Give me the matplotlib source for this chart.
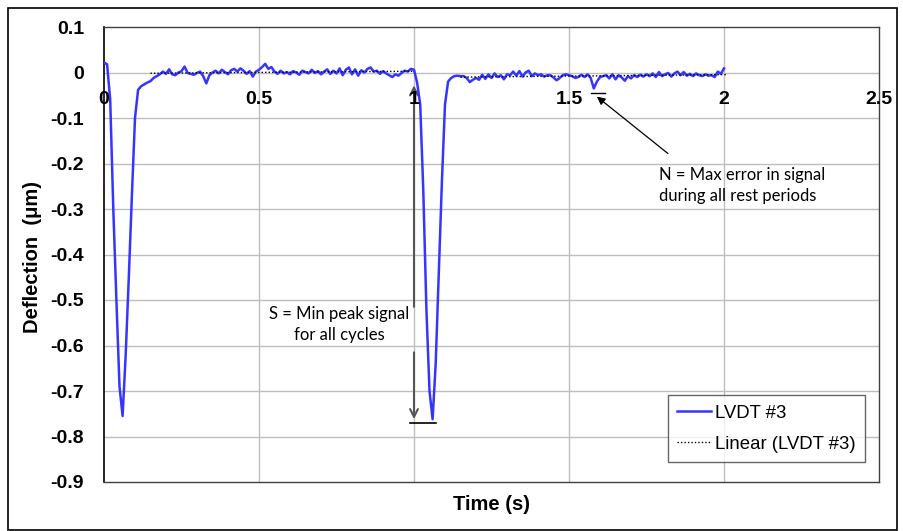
import numpy as np
import matplotlib
matplotlib.use("Agg")
import matplotlib.pyplot as plt
from matplotlib.patches import Rectangle
from matplotlib.lines import Line2D

# ---------------- data ----------------
dt = 0.01
cycle1 = [0.022, 0.018, -0.06, -0.30, -0.50, -0.69, -0.755, -0.62, -0.45, -0.27,
          -0.10, -0.038, -0.030, -0.026, -0.022, -0.019, -0.012, -0.008, -0.004, 0.002,
          -0.003, 0.007, -0.004, -0.006, 0.000, 0.003, 0.013, -0.001, -0.003, -0.005,
          -0.001, 0.002, -0.008, -0.024, -0.006, 0.000, 0.004, -0.002, 0.006, 0.001,
          -0.004, 0.005, 0.008, 0.002, 0.009, 0.004, -0.003, 0.003, -0.009, 0.002,
          0.006, 0.012, 0.019, 0.008, 0.012, 0.002, -0.003, 0.004, -0.002, 0.001,
          -0.004, 0.003, 0.000, -0.005, 0.004, 0.001, -0.002, 0.006, -0.001, 0.003,
          -0.004, 0.002, 0.007, -0.003, 0.004, -0.002, 0.009, -0.006, 0.006, 0.011,
          -0.004, 0.007, -0.007, 0.005, 0.000, 0.008, 0.011, 0.002, 0.004, -0.003,
          0.003, -0.002, -0.006, -0.010, -0.004, -0.007, -0.001, 0.004, 0.002, 0.008]
cycle2 = [0.006, -0.022, -0.07, -0.26, -0.52, -0.70, -0.762, -0.64, -0.44, -0.24,
          -0.07, -0.020, -0.012, -0.008, -0.007, -0.008, -0.008, -0.012, -0.021, -0.016,
          -0.012, -0.016, -0.005, -0.014, -0.004, -0.012, -0.002, -0.010, -0.006, -0.015,
          -0.004, -0.006, 0.002, -0.007, 0.003, -0.009, 0.000, 0.004, -0.008, -0.002,
          -0.006, -0.004, -0.009, -0.006, -0.006, -0.011, -0.017, -0.012, -0.006, -0.004,
          -0.006, -0.008, -0.012, -0.010, -0.005, -0.010, -0.004, -0.012, -0.035, -0.020,
          -0.010, -0.008, -0.006, -0.013, -0.004, -0.015, -0.006, -0.011, -0.018, -0.008,
          -0.013, -0.006, -0.010, -0.005, -0.009, -0.004, -0.008, -0.002, -0.010, 0.001,
          -0.008, -0.004, -0.001, -0.009, -0.002, 0.002, -0.006, 0.001, -0.007, -0.003,
          -0.008, -0.002, -0.006, -0.008, -0.004, -0.007, -0.006, -0.010, 0.002, -0.003,
          0.009]
deflection = np.array(cycle1 + cycle2)
time = np.round(np.arange(len(deflection)) * dt, 2)

rest_windows = [(0.15, 0.99), (1.15, 2.00)]

xticks = [0, 0.5, 1, 1.5, 2, 2.5]
xtick_labels = ["0", "0.5", "1", "1.5", "2", "2.5"]
yticks = [0.1, 0, -0.1, -0.2, -0.3, -0.4, -0.5, -0.6, -0.7, -0.8, -0.9]
ytick_labels = ["0.1", "0", "-0.1", "-0.2", "-0.3", "-0.4", "-0.5", "-0.6", "-0.7", "-0.8", "-0.9"]

min_peak = -0.77
max_rest_error = -0.044

# ---------------- figure ----------------
W, H = 904, 531
fig = plt.figure(figsize=(W / 100, H / 100), dpi=100)
ax = fig.add_axes([104 / W, 1 - 482 / H, (879 - 104) / W, (482 - 27) / H])

ax.set_xlim(0, 2.5)
ax.set_ylim(-0.9, 0.1)

grid_c = "#BEBEBE"
for x in xticks[1:-1]:
    ax.axvline(x, color=grid_c, lw=1.0, zorder=0)
for y in yticks[1:-1]:
    ax.axhline(y, color=grid_c, lw=1.0, zorder=0)

for s in ["top", "right", "bottom"]:
    ax.spines[s].set_color("#404040")
    ax.spines[s].set_linewidth(1.0)
ax.spines["left"].set_color("black")
ax.spines["left"].set_linewidth(1.2)

ax.set_xticks([])
ax.set_yticks(yticks)
ax.set_yticklabels(ytick_labels, fontsize=14, fontweight="bold", family="Liberation Sans")
ax.tick_params(axis="y", length=0, pad=14.4)

for x, lab in zip(xticks, xtick_labels):
    ax.annotate(lab, xy=(x, 0), xytext=(0, -13.5), textcoords="offset points",
                ha="center", va="top", fontsize=14, fontweight="bold",
                family="Liberation Sans", zorder=5)

# data series
ax.plot(time, deflection, color="#3535FF", lw=1.8, zorder=3, label="LVDT #3")

# linear trend over rest periods of each cycle
for a, b in rest_windows:
    m = (time >= a - 1e-9) & (time <= b + 1e-9)
    k, c = np.polyfit(time[m], deflection[m], 1)
    xs = np.array([a, b + 0.01])
    ax.plot(xs, k * xs + c, color="black", lw=1.0, ls=(0, (1, 1.5)), zorder=4)

# S annotation
ax.annotate("", xy=(1.0, -0.028), xytext=(1.0, -0.515),
            arrowprops=dict(arrowstyle="->", color="#555555", lw=1.5,
                            shrinkA=0, shrinkB=0, mutation_scale=14), zorder=2)
ax.annotate("", xy=(1.0, -0.762), xytext=(1.0, -0.615),
            arrowprops=dict(arrowstyle="->", color="#555555", lw=1.5,
                            shrinkA=0, shrinkB=0, mutation_scale=14), zorder=2)
ax.plot([0.987, 1.072], [min_peak, min_peak], color="black", lw=1.2, zorder=4)
ax.text(0.760, -0.5535, "S = Min peak signal\nfor all cycles", ha="center", va="center",
        fontsize=12, family="Lato", linespacing=1.4)

# N annotation
ax.plot([1.571, 1.616], [max_rest_error, max_rest_error], color="black", lw=1.0, zorder=4)
ax.annotate("", xy=(1.590, -0.053), xytext=(1.819, -0.178),
            arrowprops=dict(arrowstyle="-|>", color="black", lw=0.9,
                            shrinkA=0, shrinkB=0, mutation_scale=12), zorder=4)
ax.text(1.79, -0.249, "N = Max error in signal\nduring all rest periods", ha="left", va="center",
        fontsize=12, family="Lato", linespacing=1.4)

# axis labels
fig.text((104 + 879) / 2 / W, 1 - 504 / H, "Time (s)", ha="center", va="center",
         fontsize=14.5, fontweight="bold", family="Liberation Sans")
fig.text(33 / W, 1 - 257 / H, "Deflection  (\u03bcm)", ha="center", va="center", rotation=90,
         fontsize=14.5, fontweight="bold", family="Liberation Sans")

# legend
handles = [Line2D([], [], color="#3535FF", lw=1.8),
           Line2D([], [], color="black", lw=1.0, ls=(0, (1, 1.5)))]
leg = ax.legend(handles, ["LVDT #3", "Linear (LVDT #3)"], loc="lower right",
                bbox_to_anchor=((865 - 104) / (879 - 104), (482 - 462) / (482 - 27)),
                prop={"family": "Liberation Sans", "size": 13.4}, frameon=True, fancybox=False,
                handlelength=1.85, handletextpad=0.2, borderpad=0.5, labelspacing=0.75,
                borderaxespad=0)
leg.get_frame().set_edgecolor("#404040")
leg.get_frame().set_linewidth(1.0)

# outer border
fig.patches.append(Rectangle((8 / W, 1 - 530 / H), (897 - 8) / W, (530 - 8) / H,
                             transform=fig.transFigure, fill=False, edgecolor="black", lw=1.2))

fig.savefig("out.png", dpi=100)
